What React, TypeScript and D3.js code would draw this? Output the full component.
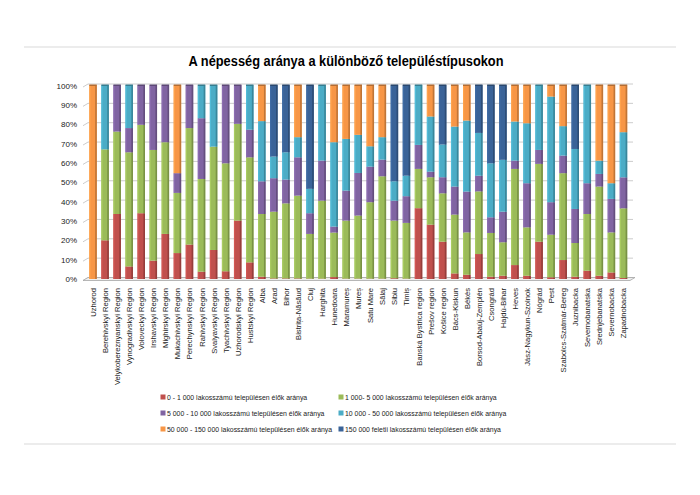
import React from "react";
import * as d3 from "d3";

const categories = [
  "Uzhorod", "Berehivskyi Region", "Velykobereznyanskyi Region", "Vynogradivskyi Region",
  "Voloveckyi Region", "Irshavskyi Region", "Mighirskyi Region", "Mukachivskyi Region",
  "Perechynskyi Region", "Rahivskyi Region", "Svalyavskyi Region", "Tyachivskyi Region",
  "Uzhorodskyi Region", "Hustskyi Region", "Alba", "Arad", "Bihor", "Bistrița-Năsăud",
  "Cluj", "Harghita", "Hunedoara", "Maramureș", "Mureș", "Satu Mare", "Sălaj", "Sibiu",
  "Timiș", "Banská Bystrica region", "Prešov region", "Košice region", "Bács-Kiskun",
  "Békés", "Borsod-Abaúj-Zemplén", "Csongrád", "Hajdú-Bihar", "Heves",
  "Jász-Nagykun-Szolnok", "Nógrád", "Pest", "Szabolcs-Szatmár-Bereg", "Juznibacka",
  "Severnobanatska", "Srednjebanatska", "Severnobacka", "Zapadnobacka",
];

const seriesNames = [
  "0 - 1 000 lakosszámú településen élők aránya",
  "1 000-  5 000 lakosszámú településen élők aránya",
  "5 000 - 10 000 lakosszámú településen élők aránya",
  "10 000 - 50 000 lakosszámú településen élők aránya",
  "50 000 - 150 000 lakosszámú településen élők aránya",
  "150 000 feletii lakosszámú településen élők aránya",
];

const seriesColors = ["#C0504D", "#9BBB59", "#8064A2", "#4BACC6", "#F79646", "#3A6398"];

const s0to1k = [0, 20, 33.6, 6.5, 34, 9.5, 23.3, 13.4, 17.8, 3.8, 15, 4, 30.2, 8.6, 1.2, 0.3, 0.3, 0.3, 0.2, 0.2, 1, 0.2, 0.2, 0.2, 0.2, 0.4, 0.2, 36.6, 28.1, 19.3, 2.9, 2.2, 12.9, 1.2, 1.7, 7.2, 1.7, 19.3, 0.9, 9.8, 1.2, 4.3, 1.7, 3.4, 0.5];
const s1kto5k = [0, 47, 42.6, 59, 45.7, 57.2, 47.4, 31.1, 60.2, 47.9, 53.4, 55.8, 50, 54.3, 32.4, 34.5, 38.8, 42.8, 23.1, 40.3, 23, 30, 32.6, 39.5, 52.9, 29.8, 28.8, 20.3, 24.5, 25, 30.4, 21.9, 32.4, 22.6, 17.3, 49.7, 25, 40.2, 22, 44.9, 17.4, 29.3, 46.1, 20.7, 36];
const s5kto10k = [0, 0, 23.8, 12.5, 20.3, 33.3, 29.3, 10.2, 22, 31.4, 0, 40.2, 19.8, 14.3, 16.9, 17.3, 12.3, 19.8, 10.7, 20.7, 3.1, 15.5, 22, 18.4, 8.6, 10.3, 13.8, 12.4, 2.9, 8.3, 14.5, 21.1, 8.1, 8.1, 15.8, 4.3, 22.8, 7.2, 16.8, 9.1, 17.6, 15.9, 6.5, 17.3, 16];
const s10kto50k = [0, 33, 0, 22, 0, 0, 0, 0, 0, 16.9, 31.6, 0, 0, 22.8, 31.1, 11.2, 14.1, 10.4, 12.6, 38.8, 43.6, 26.7, 19.7, 10.5, 11.6, 10, 10.6, 30.7, 28.5, 16.9, 31, 36.7, 22.1, 27.9, 26.8, 20.2, 31, 33.3, 54.6, 15.2, 31, 50.5, 6.9, 8.1, 23.3];
const s50kto150k = [100, 0, 0, 0, 0, 0, 0, 45.3, 0, 0, 0, 0, 0, 0, 18.4, 0, 0, 26.7, 0, 0, 29.3, 27.6, 25.5, 31.4, 26.7, 0, 0, 0, 16, 0, 21.2, 18.1, 0, 0, 0, 18.6, 19.5, 0, 5.7, 21, 0, 0, 38.8, 50.5, 24.1];
const s150kPlus = [0, 0, 0, 0, 0, 0, 0, 0, 0, 0, 0, 0, 0, 0, 0, 36.7, 34.5, 0, 53.4, 0, 0, 0, 0, 0, 0, 49.5, 46.6, 0, 0, 30.5, 0, 0, 24.5, 40.2, 38.4, 0, 0, 0, 0, 0, 32.8, 0, 0, 0, 0];

const seriesValues = [s0to1k, s1kto5k, s5kto10k, s10kto50k, s50kto150k, s150kPlus];
const yTicks = [0, 0.1, 0.2, 0.3, 0.4, 0.5, 0.6, 0.7, 0.8, 0.9, 1];

const W = 700;
const H = 495;
const FONT = "'Liberation Sans', Arial, sans-serif";

export default function App() {
  const x = d3.scaleBand<string>().domain(categories).range([87, 629.5]).paddingInner(0.38).paddingOuter(0.19);
  const y = d3.scaleLinear().domain([0, 1]).range([279, 85.5]);

  const keys = seriesNames.map((_, i) => "s" + i);
  const rows = categories.map((c, ci) => {
    const r: any = { cat: c };
    const total = seriesValues.reduce((a, s) => a + s[ci], 0);
    seriesValues.forEach((s, si) => (r["s" + si] = s[ci] / total));
    return r;
  });
  const stacked = d3.stack<any>().keys(keys)(rows);
  const bw = x.bandwidth();
  const side = 1.6;

  const legendRows = [[0, 1], [2, 3], [4, 5]];
  const legendColX = [163, 341];
  const legendRowY = [400, 416, 432];

  return (
    <div style={{ position: "absolute", left: 0, top: 0 }}>
      <svg width={W} height={H} style={{ display: "block", background: "#fff" }}>
        <line x1={24} x2={676} y1={47} y2={47} stroke="#D9D9D9" />
        <line x1={24} x2={676} y1={444} y2={444} stroke="#D9D9D9" />
        <text x={346} y={66} textAnchor="middle" fontFamily={FONT} fontWeight="bold" fontSize={14.5}
          textLength={315} lengthAdjust="spacingAndGlyphs" fill="#000">
          A népesség aránya a különböző településtípusokon
        </text>

        {/* gridlines on back wall */}
        {yTicks.map((t) => (
          <g key={t}>
            <line x1={88} x2={633} y1={y(t) - 1.5} y2={y(t) - 1.5} stroke="#BFBFBF" strokeWidth={0.8} />
            <line x1={83} x2={88} y1={y(t) + 1.5} y2={y(t) - 1.5} stroke="#BFBFBF" strokeWidth={0.8} />
            <text x={77} y={y(t) + 3} textAnchor="end" fontFamily={FONT} fontSize={8} fill="#222">
              {d3.format(".0%")(t)}
            </text>
          </g>
        ))}
        {/* floor */}
        <path d={`M83,${y(0) + 1.5} L630,${y(0) + 1.5} L635,${y(0) - 1.5} L88,${y(0) - 1.5} Z`} fill="#EEEEEE" stroke="#A6A6A6" strokeWidth={0.8} />

        {/* bars */}
        {stacked.map((layer, si) => (
          <g key={layer.key}>
            {layer.map((d, ci) => {
              const h = y(d[0]) - y(d[1]);
              if (h <= 0.05) return null;
              const bx = x(categories[ci])!;
              const col = d3.color(seriesColors[si])!;
              const dark = col.darker(0.7).toString();
              const light = col.brighter(0.25).toString();
              return (
                <g key={ci}>
                  <rect x={bx} y={y(d[1])} width={bw} height={h} fill={seriesColors[si]} />
                  <rect x={bx} y={y(d[1])} width={1.2} height={h} fill={light} />
                  <rect x={bx + bw - side} y={y(d[1])} width={side} height={h} fill={dark} />
                </g>
              );
            })}
          </g>
        ))}
        {/* top lids */}
        {categories.map((c, ci) => {
          let top = 0;
          seriesValues.forEach((s, si) => { if (s[ci] > 0) top = si; });
          const col = d3.color(seriesColors[top])!.darker(0.9).toString();
          const bx = x(c)!;
          return <rect key={c} x={bx} y={y(1) - 1} width={bw} height={1.5} fill={col} />;
        })}

        {/* category labels */}
        {categories.map((c) => {
          const cx = x(c)! + bw / 2;
          return (
            <text key={c} transform={`translate(${cx + 3},288) rotate(-90)`} textAnchor="end"
              fontFamily={FONT} fontSize={7.6} fill="#222">
              {c}
            </text>
          );
        })}

        {/* legend */}
        {legendRows.map((row, ri) =>
          row.map((si, ci) => (
            <g key={si}>
              <rect x={legendColX[ci] - 2.5} y={legendRowY[ri] - 5.5} width={5} height={5} fill={seriesColors[si]} />
              <text x={legendColX[ci] + 4} y={legendRowY[ri]} fontFamily={FONT} fontSize={6.9} fill="#222">
                {seriesNames[si]}
              </text>
            </g>
          ))
        )}
      </svg>
    </div>
  );
}
